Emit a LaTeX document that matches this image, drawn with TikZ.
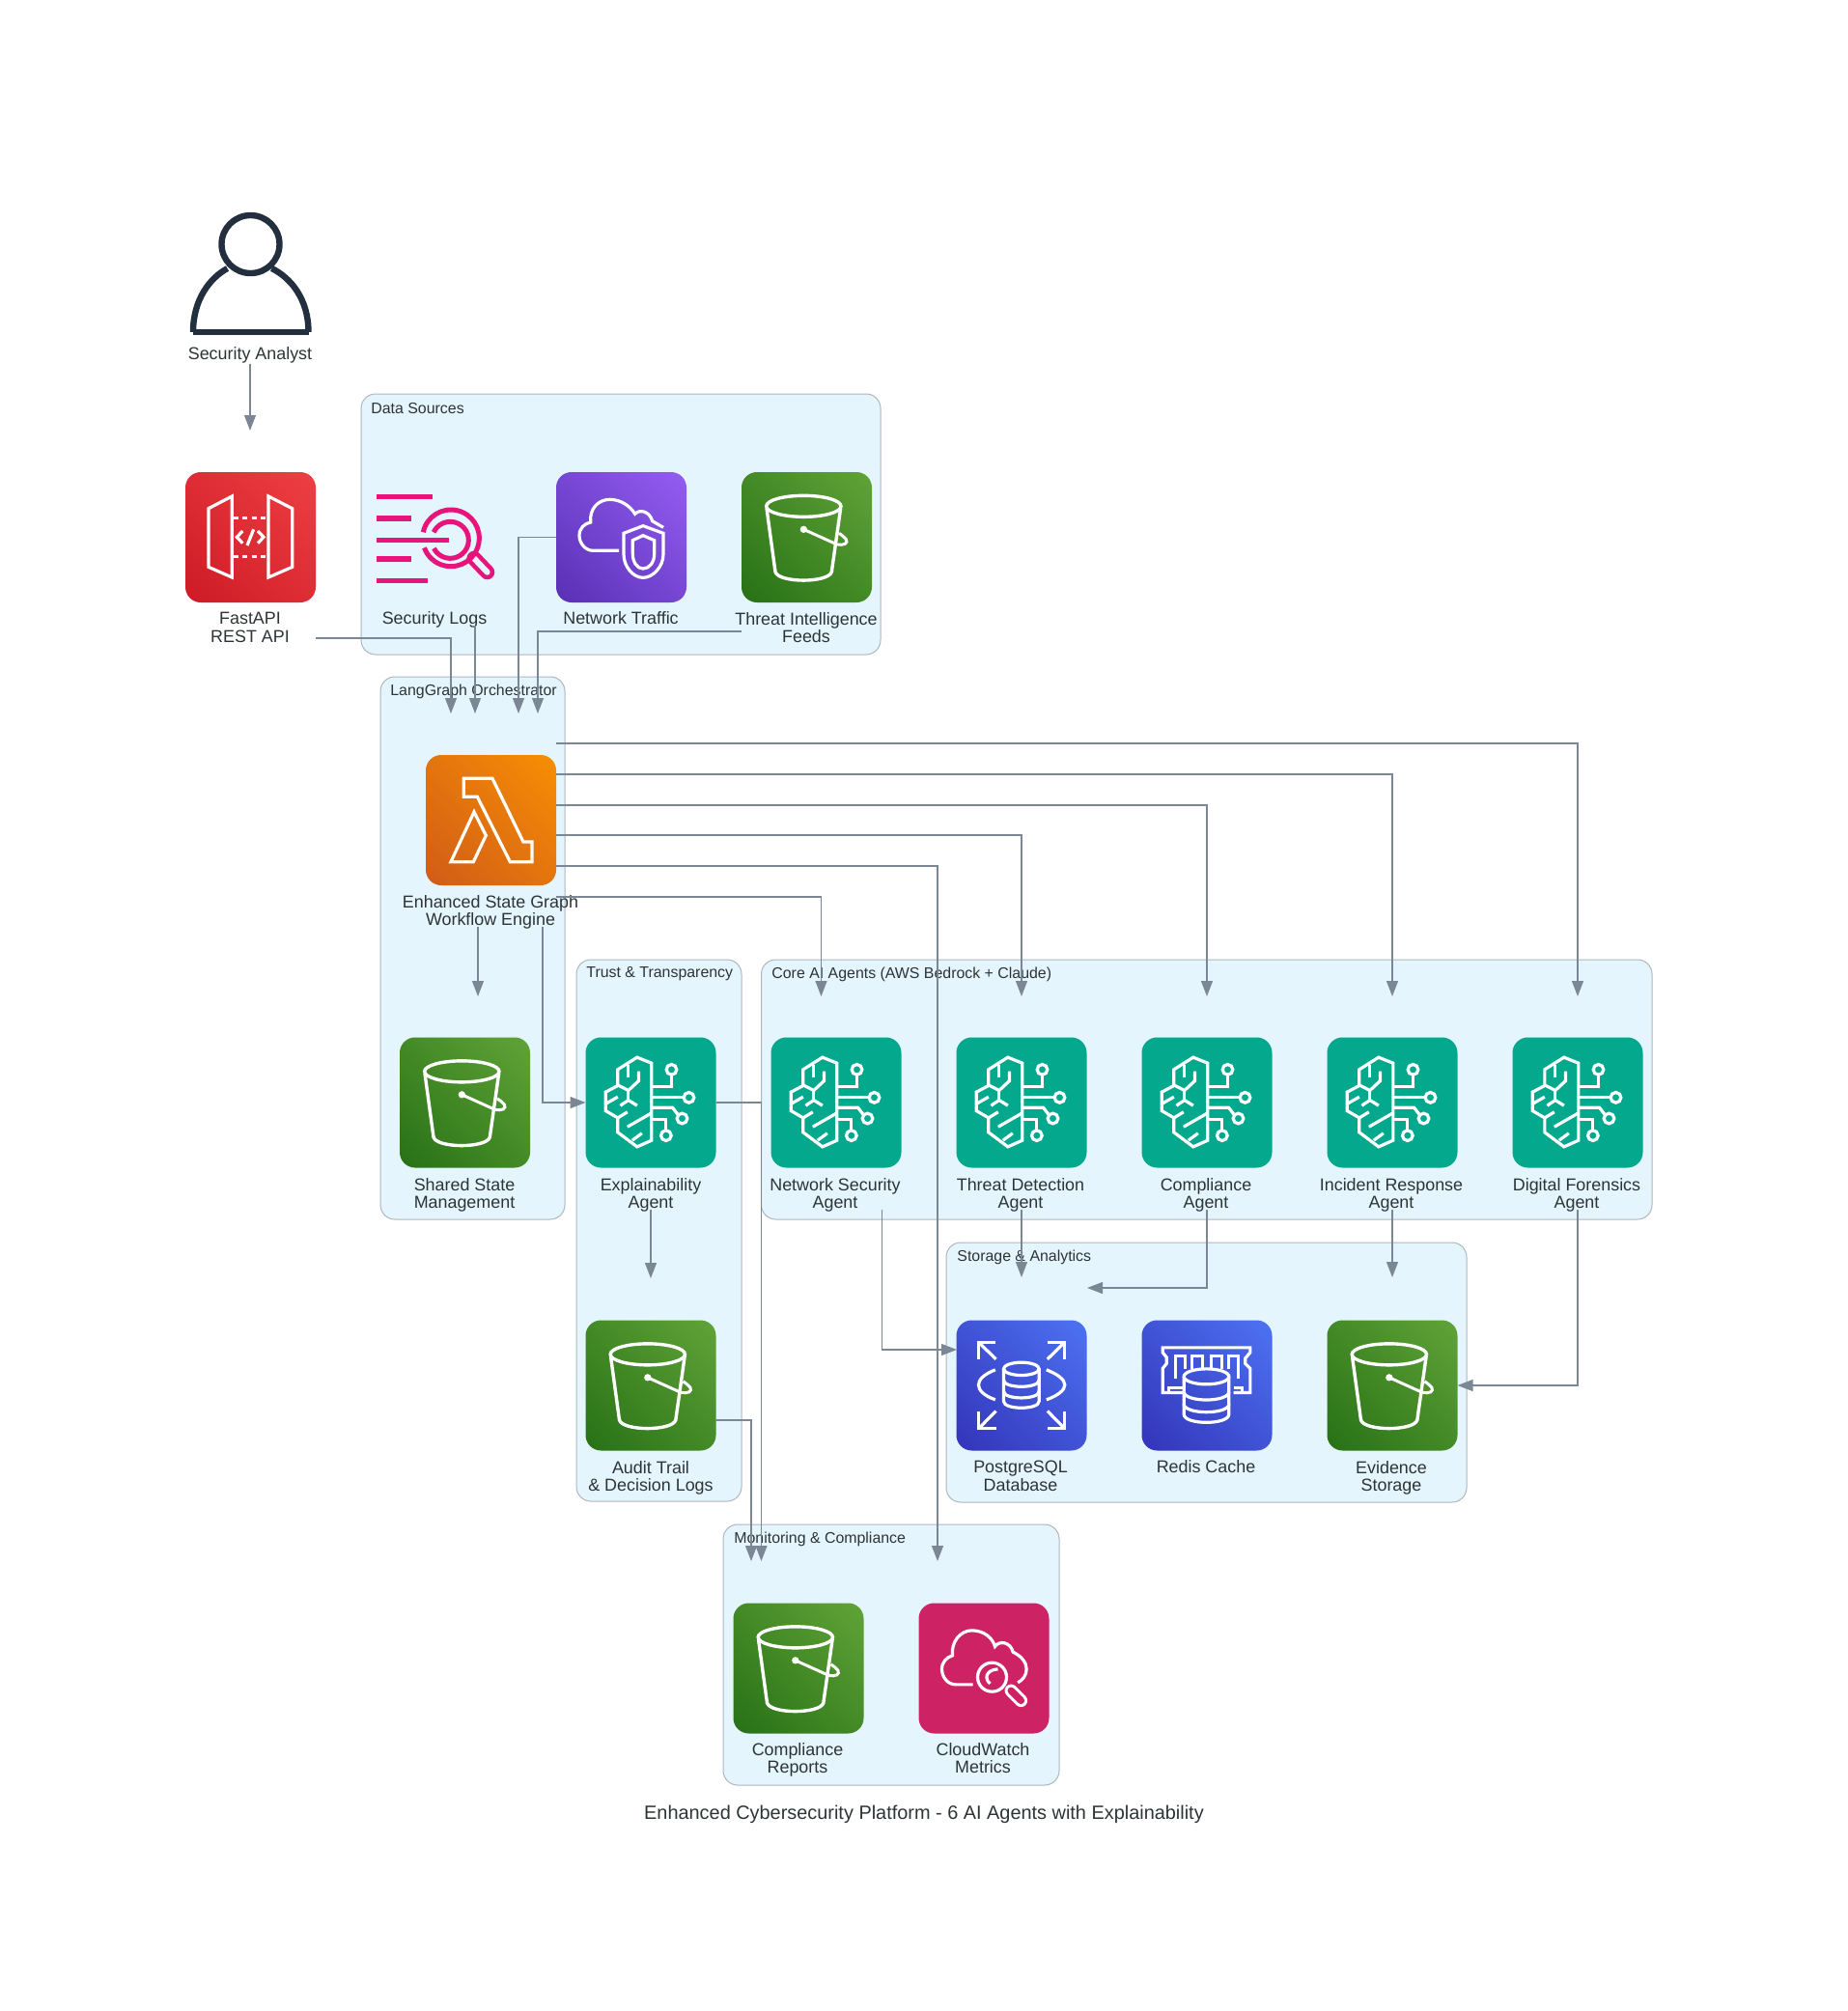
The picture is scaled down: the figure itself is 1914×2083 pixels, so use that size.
\documentclass[tikz,border=0pt]{standalone}
\usepackage{fontspec}
\setmainfont{Liberation Sans}
\usetikzlibrary{arrows.meta}
\definecolor{txt}{HTML}{2D3436}
\definecolor{edgec}{HTML}{7B8794}
\definecolor{clfill}{HTML}{E5F5FD}
\definecolor{clline}{HTML}{AEB6BE}
\definecolor{ink}{HTML}{232F3E}
\definecolor{pinkl}{HTML}{E7157B}
\definecolor{tealc}{HTML}{03A88D}
\definecolor{cwc}{HTML}{CD2264}
\pgfdeclareverticalshading{gredx}{100bp}{rgb(0bp)=(0.78,0.075,0.12);rgb(100bp)=(0.96,0.28,0.29)}
\pgfdeclareverticalshading{gpurple}{100bp}{rgb(0bp)=(0.30,0.153,0.66);rgb(100bp)=(0.63,0.40,1)}
\pgfdeclareverticalshading{ggreen}{100bp}{rgb(0bp)=(0.106,0.40,0.059);rgb(100bp)=(0.424,0.682,0.243)}
\pgfdeclareverticalshading{gorange}{100bp}{rgb(0bp)=(0.784,0.318,0.106);rgb(100bp)=(1,0.60,0)}
\pgfdeclareverticalshading{gblue}{100bp}{rgb(0bp)=(0.18,0.153,0.678);rgb(100bp)=(0.322,0.498,1)}
\newcommand\tileshade[1]{\shade[shading=#1,shading angle=-45,rounded corners=8pt] (0,0) rectangle (405,405);}
\tikzset{
  cluster/.style={draw=clline,fill=clfill,line width=0.5pt,rounded corners=7.5pt},
  cltitle/.style={font=\fontsize{7.95}{10}\selectfont,text=txt,anchor=west,inner sep=0pt},
  lab/.style={font=\fontsize{8.95}{9.2}\selectfont,text=txt,align=center,inner sep=0pt},
  iconbox/.style={minimum size=67.5pt,inner sep=0pt,outer sep=0pt},
  edge/.style={draw=edgec,line width=0.6pt,-{Triangle[length=8pt,width=6pt,fill=edgec]}},
  icon/.style={x=0.166667pt,y=-0.166667pt,shift={(-202.5,-202.5)}},
  wl/.style={draw=white,line width=1.6pt,line join=miter},
  pics/bucket/.style={code={\begin{scope}[icon]
    \tileshade{ggreen}
    \draw[wl,line width=1.7pt] (193,106) ellipse [x radius=116,y radius=33];
    \draw[wl,line width=1.7pt] (78,112) -- (105,310) .. controls (115,345) and (270,345) .. (280,310) -- (308,112);
    \fill[white] (193,178) circle [radius=11];
    \draw[wl,line width=1.5pt] (193,178) -- (295,224) .. controls (320,230) and (332,220) .. (325,209) .. controls (320,202) and (312,196) .. (303,190);
  \end{scope}}},
  pics/apigw/.style={code={\begin{scope}[icon]
    \tileshade{gredx}
    \draw[wl] (145,75) -- (72,113) -- (72,295) -- (145,327) -- cycle;
    \draw[wl] (258,75) -- (332,113) -- (332,295) -- (258,327) -- cycle;
    \draw[wl,dash pattern=on 2.6pt off 2.2pt] (148,143) -- (258,143);
    \draw[wl,dash pattern=on 2.6pt off 2.2pt] (148,262) -- (258,262);
    \draw[wl] (178,183) -- (160,202) -- (178,221);
    \draw[wl] (225,183) -- (243,202) -- (225,221);
    \draw[wl] (212,178) -- (192,228);
  \end{scope}}},
  pics/seclogs/.style={code={\begin{scope}[icon]
    \draw[pinkl,line width=7.6pt,line cap=round] (321,268) -- (362,311);
    \draw[clfill,line width=3pt,line cap=round] (321,268) -- (362,311);
    \begin{scope}[pinkl,line width=2.7pt]
      \draw (17,77) -- (193,77);
      \draw (17,144) -- (126,144);
      \draw (17,211) -- (244,211);
      \draw (17,270) -- (126,270);
      \draw (17,337) -- (177,337);
    \end{scope}
    \draw[pinkl,line width=2.5pt] (249,205) ++(192:88) arc [start angle=192,end angle=520,radius=88];
    \draw[pinkl,line width=2.5pt] (247,211) ++(205:57) arc [start angle=205,end angle=513,radius=57];
  \end{scope}}},
  pics/cloudshield/.style={code={\begin{scope}[icon]
    \tileshade{gpurple}
    \draw[wl] (195,244) -- (115,244) .. controls (90,244) and (72,220) .. (72,197) .. controls (72,175) and (87,160) .. (107,156) .. controls (103,115) and (130,85) .. (167,85) .. controls (200,85) and (230,105) .. (245,130) .. controls (258,115) and (290,120) .. (299,152) -- (333,172);
    \draw[wl] (270,167) -- (333,190) -- (333,255) .. controls (333,295) and (300,328) .. (270,328) .. controls (240,328) and (210,295) .. (210,255) -- (210,190) -- cycle;
    \draw[wl] (270,197) -- (305,212) -- (305,255) .. controls (305,280) and (290,300) .. (270,300) .. controls (252,300) and (238,280) .. (238,255) -- (238,212) -- cycle;
  \end{scope}}},
  pics/lambda/.style={code={\begin{scope}[icon]
    \tileshade{gorange}
    \draw[wl] (118,73) -- (207,73) -- (303,270) -- (330,270) -- (330,332) -- (262,332) -- (160,130) -- (118,130) -- cycle;
    \draw[wl] (150,177) -- (187,250) -- (148,332) -- (78,332) -- cycle;
  \end{scope}}},
  pics/brain/.style={code={\begin{scope}[icon]
    \fill[tealc,rounded corners=8pt] (0,0) rectangle (405,405);
    \draw[wl] (205,80) -- (160,62) -- (100,100) -- (100,150) -- (62,170) -- (62,228) -- (100,250) -- (100,295) -- (160,340) -- (205,320) -- cycle;
    \draw[wl] (133,85) -- (133,125);
    \draw[wl] (165,105) -- (165,135) -- (133,165) -- (100,148);
    \draw[wl] (133,165) -- (133,195);
    \draw[wl] (108,212) -- (133,195) -- (160,212);
    \draw[wl] (65,205) -- (100,185);
    \draw[wl] (100,250) -- (130,232);
    \draw[wl] (130,278) -- (205,235);
    \draw[wl] (145,320) -- (175,298);
    \draw[wl] (205,152) -- (267,152) -- (267,116);
    \draw[wl] (267,100) circle [radius=16];
    \draw[wl] (205,187) -- (305,187);
    \draw[wl] (321,187) circle [radius=16];
    \draw[wl] (205,218) -- (270,218) -- (287,240);
    \draw[wl] (300,252) circle [radius=16];
    \draw[wl] (205,255) -- (250,255) -- (250,289);
    \draw[wl] (250,305) circle [radius=16];
  \end{scope}}},
  pics/rds/.style={code={\begin{scope}[icon]
    \tileshade{gblue}
    \draw[wl] (69,120) -- (69,68) -- (121,68);
    \draw[wl] (69,68) -- (123,121);
    \draw[wl] (283,68) -- (337,68) -- (337,120);
    \draw[wl] (337,68) -- (283,121);
    \draw[wl] (69,282) -- (69,337) -- (123,337);
    \draw[wl] (69,337) -- (123,282);
    \draw[wl] (337,282) -- (337,337) -- (283,337);
    \draw[wl] (337,337) -- (283,282);
    \draw[wl] (121,154) .. controls (85,168) and (69,185) .. (69,201) .. controls (69,217) and (85,234) .. (121,247);
    \draw[wl] (280,154) .. controls (316,168) and (337,185) .. (337,201) .. controls (337,217) and (316,234) .. (280,247);
    \draw[wl] (202,151) ellipse [x radius=55,y radius=20];
    \draw[wl] (147,151) -- (147,252) .. controls (147,279) and (257,279) .. (257,252) -- (257,151);
    \draw[wl] (147,186) .. controls (147,213) and (257,213) .. (257,186);
    \draw[wl] (147,221) .. controls (147,248) and (257,248) .. (257,221);
  \end{scope}}},
  pics/redis/.style={code={\begin{scope}[icon]
    \tileshade{gblue}
    \draw[wl] (130,225) -- (65,225) -- (65,150) -- (77,135) -- (77,115) -- (65,100) -- (65,85) -- (337,85) -- (337,100) -- (322,118) -- (322,135) -- (337,150) -- (337,225) -- (285,225);
    \draw[wl] (85,225) -- (85,210) -- (130,210);
    \draw[wl] (285,210) -- (312,210) -- (312,225);
    \draw[wl] (105,180) -- (105,110) -- (135,110) -- (135,150);
    \draw[wl] (155,150) -- (155,110) -- (190,110) -- (190,150);
    \draw[wl] (215,150) -- (215,110) -- (250,110) -- (250,150);
    \draw[wl] (270,150) -- (270,110) -- (300,110) -- (300,180);
    \draw[wl] (201,175) ellipse [x radius=70,y radius=24];
    \draw[wl] (131,175) -- (131,292) .. controls (131,326) and (271,326) .. (271,292) -- (271,175);
    \draw[wl] (131,222) .. controls (131,256) and (271,256) .. (271,222);
    \draw[wl] (131,260) .. controls (131,294) and (271,294) .. (271,260);
  \end{scope}}},
  pics/cloudwatch/.style={code={\begin{scope}[icon]
    \fill[cwc,rounded corners=8pt] (0,0) rectangle (405,405);
    \draw[wl] (168,253) -- (115,253) .. controls (90,253) and (72,230) .. (72,205) .. controls (72,183) and (87,168) .. (105,163) .. controls (100,120) and (130,85) .. (165,85) .. controls (205,85) and (230,110) .. (237,135) .. controls (250,115) and (285,120) .. (293,152) .. controls (320,165) and (335,185) .. (335,205) .. controls (335,225) and (322,240) .. (308,247);
    \draw[white,line width=6.6pt,line cap=round] (287,272) -- (318,303);
    \draw[cwc,line width=3.6pt,line cap=round] (287,272) -- (318,303);
    \fill[cwc] (228,230) circle [radius=45];
    \draw[wl] (228,230) circle [radius=45];
    \draw[wl] (222,250) .. controls (205,238) and (205,208) .. (246,205);
  \end{scope}}},
  pics/person/.style={code={
    \draw[ink,line width=3.2pt] (-59.5,44) .. controls (-59.5,10) and (-42,-12) .. (-24,-22);
    \draw[ink,line width=3.2pt] (60,44) .. controls (60,10) and (42,-12) .. (22,-22);
    \draw[ink,line width=3.2pt] (-59.5,44) -- (60,44);
    \draw[ink,line width=3.2pt] (0,-47) circle [radius=30];
  }}
}
\begin{document}
\begin{tikzpicture}[x=0.5pt,y=-0.5pt]
\useasboundingbox (0,0) rectangle (1914,2083);
% clusters
\draw[cluster] (374,408) rectangle (912,678);
\draw[cluster] (394,701) rectangle (585,1263);
\draw[cluster] (597,994) rectangle (768,1555);
\draw[cluster] (788.5,994) rectangle (1711,1263);
\draw[cluster] (980,1287) rectangle (1519,1556);
\draw[cluster] (749,1579) rectangle (1097,1849);
\node[cltitle] (tData) at (384,423) {Data Sources};
\node[cltitle] (tLang) at (404,716) {LangGraph Orchestrator};
\node[cltitle] (tTrust) at (607,1009) {Trust \& Transparency};
\node[cltitle] (tCore) at (799,1009) {Core AI Agents (AWS Bedrock + Claude)};
\node[cltitle] (tStore) at (991,1302) {Storage \& Analytics};
\node[cltitle] (tMon) at (760,1594) {Monitoring \& Compliance};
% analyst
\node[iconbox] (analyst) at (259.5,300) {};
\pic at (analyst) {person};
\node[lab] (analystL) at (259,368) {Security Analyst};
% icon nodes
\node[iconbox] (fastapi) at (259.5,556.5) {}; \pic at (fastapi) {apigw};
\node[iconbox] (seclogs) at (451.5,556.5) {}; \pic at (seclogs) {seclogs};
\node[iconbox] (nettraf) at (643.5,556.5) {}; \pic at (nettraf) {cloudshield};
\node[iconbox] (threat) at (835.5,556.5) {}; \pic at (threat) {bucket};
\node[iconbox] (engine) at (508.5,849.5) {}; \pic at (engine) {lambda};
\node[iconbox] (shared) at (481.5,1142) {}; \pic at (shared) {bucket};
\node[iconbox] (explain) at (674,1142) {}; \pic at (explain) {brain};
\node[iconbox] (netsec) at (866,1142) {}; \pic at (netsec) {brain};
\node[iconbox] (tdetect) at (1058,1142) {}; \pic at (tdetect) {brain};
\node[iconbox] (compl) at (1250,1142) {}; \pic at (compl) {brain};
\node[iconbox] (incid) at (1442,1142) {}; \pic at (incid) {brain};
\node[iconbox] (forens) at (1634,1142) {}; \pic at (forens) {brain};
\node[iconbox] (audit) at (674,1435) {}; \pic at (audit) {bucket};
\node[iconbox] (pg) at (1058,1435) {}; \pic at (pg) {rds};
\node[iconbox] (redis) at (1250,1435) {}; \pic at (redis) {redis};
\node[iconbox] (evid) at (1442,1435) {}; \pic at (evid) {bucket};
\node[iconbox] (creports) at (827,1728) {}; \pic at (creports) {bucket};
\node[iconbox] (cw) at (1019,1728) {}; \pic at (cw) {cloudwatch};
% labels
\node[lab] (fastapiL) at (259,650) {FastAPI\\REST API};
\node[lab] (seclogsL) at (450,642) {Security Logs};
\node[lab] (nettrafL) at (643,640) {Network Traffic};
\node[lab] (threatL) at (835,650) {Threat Intelligence\\Feeds};
\node[lab] (engineL) at (508,945) {Enhanced State Graph\\Workflow Engine};
\node[lab] (sharedL) at (481,1238) {Shared State\\Management};
\node[lab] (explainL) at (674,1238) {Explainability\\Agent};
\node[lab] (netsecL) at (865,1238) {Network Security\\Agent};
\node[lab] (tdetectL) at (1057,1238) {Threat Detection\\Agent};
\node[lab] (complL) at (1249,1238) {Compliance\\Agent};
\node[lab] (incidL) at (1441,1238) {Incident Response\\Agent};
\node[lab] (forensL) at (1633,1238) {Digital Forensics\\Agent};
\node[lab] (auditL) at (674,1531) {Audit Trail\\\& Decision Logs};
\node[lab] (pgL) at (1057,1529) {PostgreSQL\\Database};
\node[lab] (redisL) at (1249,1519) {Redis Cache};
\node[lab] (evidL) at (1441,1531) {Evidence\\Storage};
\node[lab] (creportsL) at (826,1823) {Compliance\\Reports};
\node[lab] (cwL) at (1018,1821) {CloudWatch\\Metrics};
\node[lab,font=\fontsize{9.95}{12}\selectfont] (title) at (957,1879) {Enhanced Cybersecurity Platform - 6 AI Agents with Explainability};
% connector free ends
\coordinate (apiIn) at (259,446);
\coordinate (apiOut) at (327,661);
\coordinate (logsOut) at (492,648);
\coordinate (threatOut) at (768,654);
\coordinate (inA) at (467,739);
\coordinate (inB) at (492,739);
\coordinate (inC) at (537,739);
\coordinate (inD) at (557,739);
\coordinate (e1) at (576,770);  \coordinate (t1) at (1634,1032);
\coordinate (e2) at (576,802);  \coordinate (t2) at (1442,1032);
\coordinate (e3) at (576,834);  \coordinate (t3) at (1250,1032);
\coordinate (e4) at (576,865);  \coordinate (t4) at (1058,1032);
\coordinate (e5) at (576,897);  \coordinate (t5) at (971,1617);
\coordinate (e6) at (576,929);  \coordinate (t6) at (850.5,1032);
\coordinate (eDown) at (495,960); \coordinate (sharedIn) at (495,1032);
\coordinate (eExp) at (562,960);
\coordinate (repIn) at (788.5,1617);
\coordinate (exOut) at (674,1253); \coordinate (auditIn) at (674,1324);
\coordinate (auOut) at (741,1471); \coordinate (repInB) at (778,1617);
\coordinate (nsOut) at (913.5,1253); \coordinate (pgIn) at (991,1398);
\coordinate (tdOut) at (1058,1253); \coordinate (tdIn) at (1058,1323);
\coordinate (coOut) at (1250,1253); \coordinate (coIn) at (1126,1334);
\coordinate (inOut) at (1442,1253); \coordinate (inIn) at (1442,1323);
\coordinate (foOut) at (1634,1253);
% connectors
\draw[edge] (analystL.south) -- (apiIn);
\draw[edge] (apiOut) -| (inA);
\draw[edge] (logsOut) -- (inB);
\draw[edge] (nettraf.west) -| (inC);
\draw[edge] (threatOut) -| (inD);
\draw[edge] (e1) -| (t1);
\draw[edge] (e2) -| (t2);
\draw[edge] (e3) -| (t3);
\draw[edge] (e4) -| (t4);
\draw[edge] (e5) -| (t5);
\draw[edge] (e6) -| (t6);
\draw[edge] (eDown) -- (sharedIn);
\draw[edge] (eExp) |- (explain.west);
\draw[edge] (explain.east) -| (repIn);
\draw[edge] (exOut) -- (auditIn);
\draw[edge] (auOut) -| (repInB);
\draw[edge] (nsOut) |- (pgIn);
\draw[edge] (tdOut) -- (tdIn);
\draw[edge] (coOut) |- (coIn);
\draw[edge] (inOut) -- (inIn);
\draw[edge] (foOut) |- (evid.east);
\end{tikzpicture}
\end{document}
